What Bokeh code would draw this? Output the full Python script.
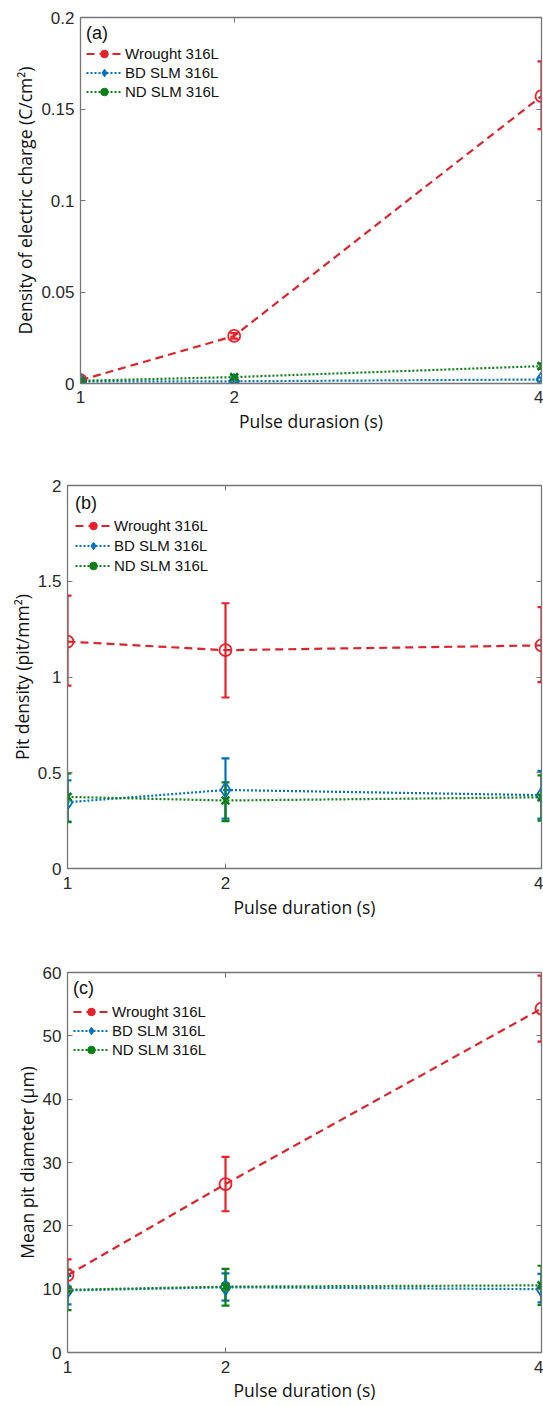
from bokeh.plotting import figure
from bokeh.models import (Range1d, FixedTicker, NumeralTickFormatter, LinearAxis, Whisker,
                          TeeHead, ColumnDataSource, Legend, LegendItem, CustomLabelingPolicy)
from bokeh.embed import file_html
from bokeh.resources import INLINE

# ---------------- data ----------------
pulse = [1, 2, 4]
x_ticks = [1, 2, 4]
series_names = ["Wrought 316L", "BD SLM 316L", "ND SLM 316L"]

# (a) density of electric charge (C/cm2)
charge_wrought = [0.0018, 0.026, 0.157]
charge_wrought_lo = [0.0008, 0.0245, 0.139]
charge_wrought_hi = [0.0028, 0.0275, 0.176]
charge_bd = [0.0012, 0.0012, 0.0022]
charge_bd_lo = [0.0004, 0.0005, 0.0012]
charge_bd_hi = [0.0020, 0.0019, 0.0032]
charge_nd = [0.0015, 0.0035, 0.0095]
charge_nd_lo = [0.0006, 0.0025, 0.0080]
charge_nd_hi = [0.0024, 0.0045, 0.0110]
charge_yticks = [0, 0.05, 0.1, 0.15, 0.2]

# (b) pit density (pit/mm2)
pit_wrought = [1.185, 1.14, 1.165]
pit_wrought_lo = [0.955, 0.893, 0.973]
pit_wrought_hi = [1.425, 1.385, 1.365]
pit_bd = [0.346, 0.41, 0.383]
pit_bd_lo = [0.245, 0.26, 0.26]
pit_bd_hi = [0.46, 0.575, 0.51]
pit_nd = [0.374, 0.355, 0.372]
pit_nd_lo = [0.242, 0.247, 0.25]
pit_nd_hi = [0.496, 0.45, 0.486]
pit_yticks = [0, 0.5, 1, 1.5, 2]

# (c) mean pit diameter (um)
diam_wrought = [12.2, 26.6, 54.3]
diam_wrought_lo = [9.8, 22.3, 49.1]
diam_wrought_hi = [14.7, 30.9, 59.5]
diam_bd = [9.8, 10.3, 10.0]
diam_bd_lo = [7.6, 8.2, 7.9]
diam_bd_hi = [12.1, 12.5, 12.4]
diam_nd = [9.9, 10.4, 10.6]
diam_nd_lo = [6.7, 7.4, 7.5]
diam_nd_hi = [13.1, 13.2, 13.7]
diam_yticks = [0, 10, 20, 30, 40, 50, 60]

# ---------------- style ----------------
RED = "#e8202a"
RED_LINE = "#d8262e"
BLUE = "#0072bd"
GREEN = "#0d7f17"
AXIS = "#767676"
TICKTXT = "#2a2a2a"
TICK_FONT = "Liberation Sans"
TITLE_FONT = "Open Sans"

styles = [
    dict(color=RED, line=RED_LINE, dash="8 5", marker="circle", size=12, mlw=1.8, legend_marker="circle"),
    dict(color=BLUE, line=BLUE, dash="2 2", marker="diamond", size=15, mlw=1.8, legend_marker="diamond"),
    dict(color=GREEN, line=GREEN, dash="2 2", marker="x", size=11, mlw=2.6, legend_marker="circle"),
]


def make_panel(tag, ylabel, xlabel, ys, yticks, fmt, ymax,
               fw, fh, ml, mt, mb, leg_pad, leg_standoff, leg_spacing, xl_standoff, xt_standoff):
    p = figure(frame_width=fw, frame_height=fh,
               min_border_left=ml, min_border_right=2, min_border_top=mt, min_border_bottom=mb,
               x_range=Range1d(1, 4), y_range=Range1d(0, ymax),
               output_backend="svg", toolbar_location=None, tools="")
    p.grid.visible = False
    p.outline_line_color = None
    p.background_fill_color = "white"
    p.border_fill_color = "white"

    for ax, ticks in ((p.xaxis[0], x_ticks), (p.yaxis[0], yticks)):
        ax.ticker = FixedTicker(ticks=ticks)
        ax.axis_line_color = AXIS
        ax.axis_line_width = 1.3
        ax.major_tick_line_color = AXIS
        ax.major_tick_in = 5
        ax.major_tick_out = 0
        ax.minor_tick_line_color = None
        ax.major_label_text_font = TICK_FONT
        ax.major_label_text_font_size = "17px"
        ax.major_label_text_color = TICKTXT
        ax.axis_label_text_font = TITLE_FONT
        ax.axis_label_text_font_size = "17.5px"
        ax.axis_label_text_font_style = "normal"
        ax.axis_label_text_color = "#111111"
    p.yaxis[0].formatter = NumeralTickFormatter(format=fmt)
    p.xaxis[0].axis_label = xlabel
    p.yaxis[0].axis_label = ylabel
    p.xaxis[0].major_label_standoff = xl_standoff
    p.xaxis[0].axis_label_standoff = xt_standoff
    p.yaxis[0].major_label_standoff = 6
    p.yaxis[0].axis_label_standoff = 1

    for loc, ticks in (("above", x_ticks), ("right", yticks)):
        ax = LinearAxis(ticker=FixedTicker(ticks=ticks),
                        axis_line_color=AXIS, axis_line_width=1.3,
                        major_tick_line_color=AXIS, major_tick_in=5, major_tick_out=0,
                        minor_tick_line_color=None,
                        major_label_policy=CustomLabelingPolicy(code="return []"),
                        major_label_text_font_size="0px", major_label_standoff=0)
        p.add_layout(ax, loc)

    items = []
    for name, (yv, lo, hi), st in zip(series_names, ys, styles):
        src = ColumnDataSource(dict(x=pulse, y=yv, lo=lo, hi=hi))
        ln = p.line("x", "y", source=src, line_color=st["line"], line_width=2.2,
                    line_dash=st["dash"])
        p.add_layout(Whisker(base="x", upper="hi", lower="lo", source=src,
                             line_color=st["color"], line_width=2.2,
                             upper_head=TeeHead(size=8, line_color=st["color"], line_width=2.2),
                             lower_head=TeeHead(size=8, line_color=st["color"], line_width=2.2)))
        p.scatter("x", "y", source=src, marker=st["marker"], size=st["size"],
                  line_color=st["color"], line_width=st["mlw"], fill_color=None)
        lg = p.scatter("x", "y", source=src, marker=st["legend_marker"],
                       line_color=st["color"], fill_color=st["color"], visible=False)
        items.append(LegendItem(label=name, renderers=[ln, lg]))

    leg = Legend(items=items, location="top_left", title=tag,
                 title_text_font=TICK_FONT, title_text_font_size="18px",
                 title_text_font_style="normal", title_text_color="#111111",
                 title_standoff=leg_standoff,
                 label_text_font=TICK_FONT, label_text_font_size="15px",
                 label_text_color="#111111",
                 glyph_width=36, glyph_height=19, label_height=19, label_standoff=3,
                 spacing=leg_spacing, margin=0, padding=leg_pad,
                 background_fill_alpha=0, border_line_alpha=0)
    p.add_layout(leg)
    return p


pa = make_panel("(a)", "Density of electric charge (C/cm²)", "Pulse durasion (s)",
                [(charge_wrought, charge_wrought_lo, charge_wrought_hi),
                 (charge_bd, charge_bd_lo, charge_bd_hi),
                 (charge_nd, charge_nd_lo, charge_nd_hi)],
                charge_yticks, "0.[00]", 0.2,
                fw=461, fh=366, ml=80, mt=17, mb=85,
                leg_pad=6, leg_standoff=0, leg_spacing=0, xl_standoff=7, xt_standoff=3)
pb = make_panel("(b)", "Pit density (pit/mm²)", "Pulse duration (s)",
                [(pit_wrought, pit_wrought_lo, pit_wrought_hi),
                 (pit_bd, pit_bd_lo, pit_bd_hi),
                 (pit_nd, pit_nd_lo, pit_nd_hi)],
                pit_yticks, "0.[0]", 2,
                fw=474, fh=383, ml=67, mt=17, mb=82,
                leg_pad=8, leg_standoff=2, leg_spacing=1, xl_standoff=8, xt_standoff=3)
pc = make_panel("(c)", "Mean pit diameter (µm)", "Pulse duration (s)",
                [(diam_wrought, diam_wrought_lo, diam_wrought_hi),
                 (diam_bd, diam_bd_lo, diam_bd_hi),
                 (diam_nd, diam_nd_lo, diam_nd_hi)],
                diam_yticks, "0", 60,
                fw=474, fh=380, ml=67, mt=22, mb=52,
                leg_pad=6, leg_standoff=3, leg_spacing=0, xl_standoff=8, xt_standoff=2)

open("out.html", "w").write(file_html([pa, pb, pc], INLINE))
